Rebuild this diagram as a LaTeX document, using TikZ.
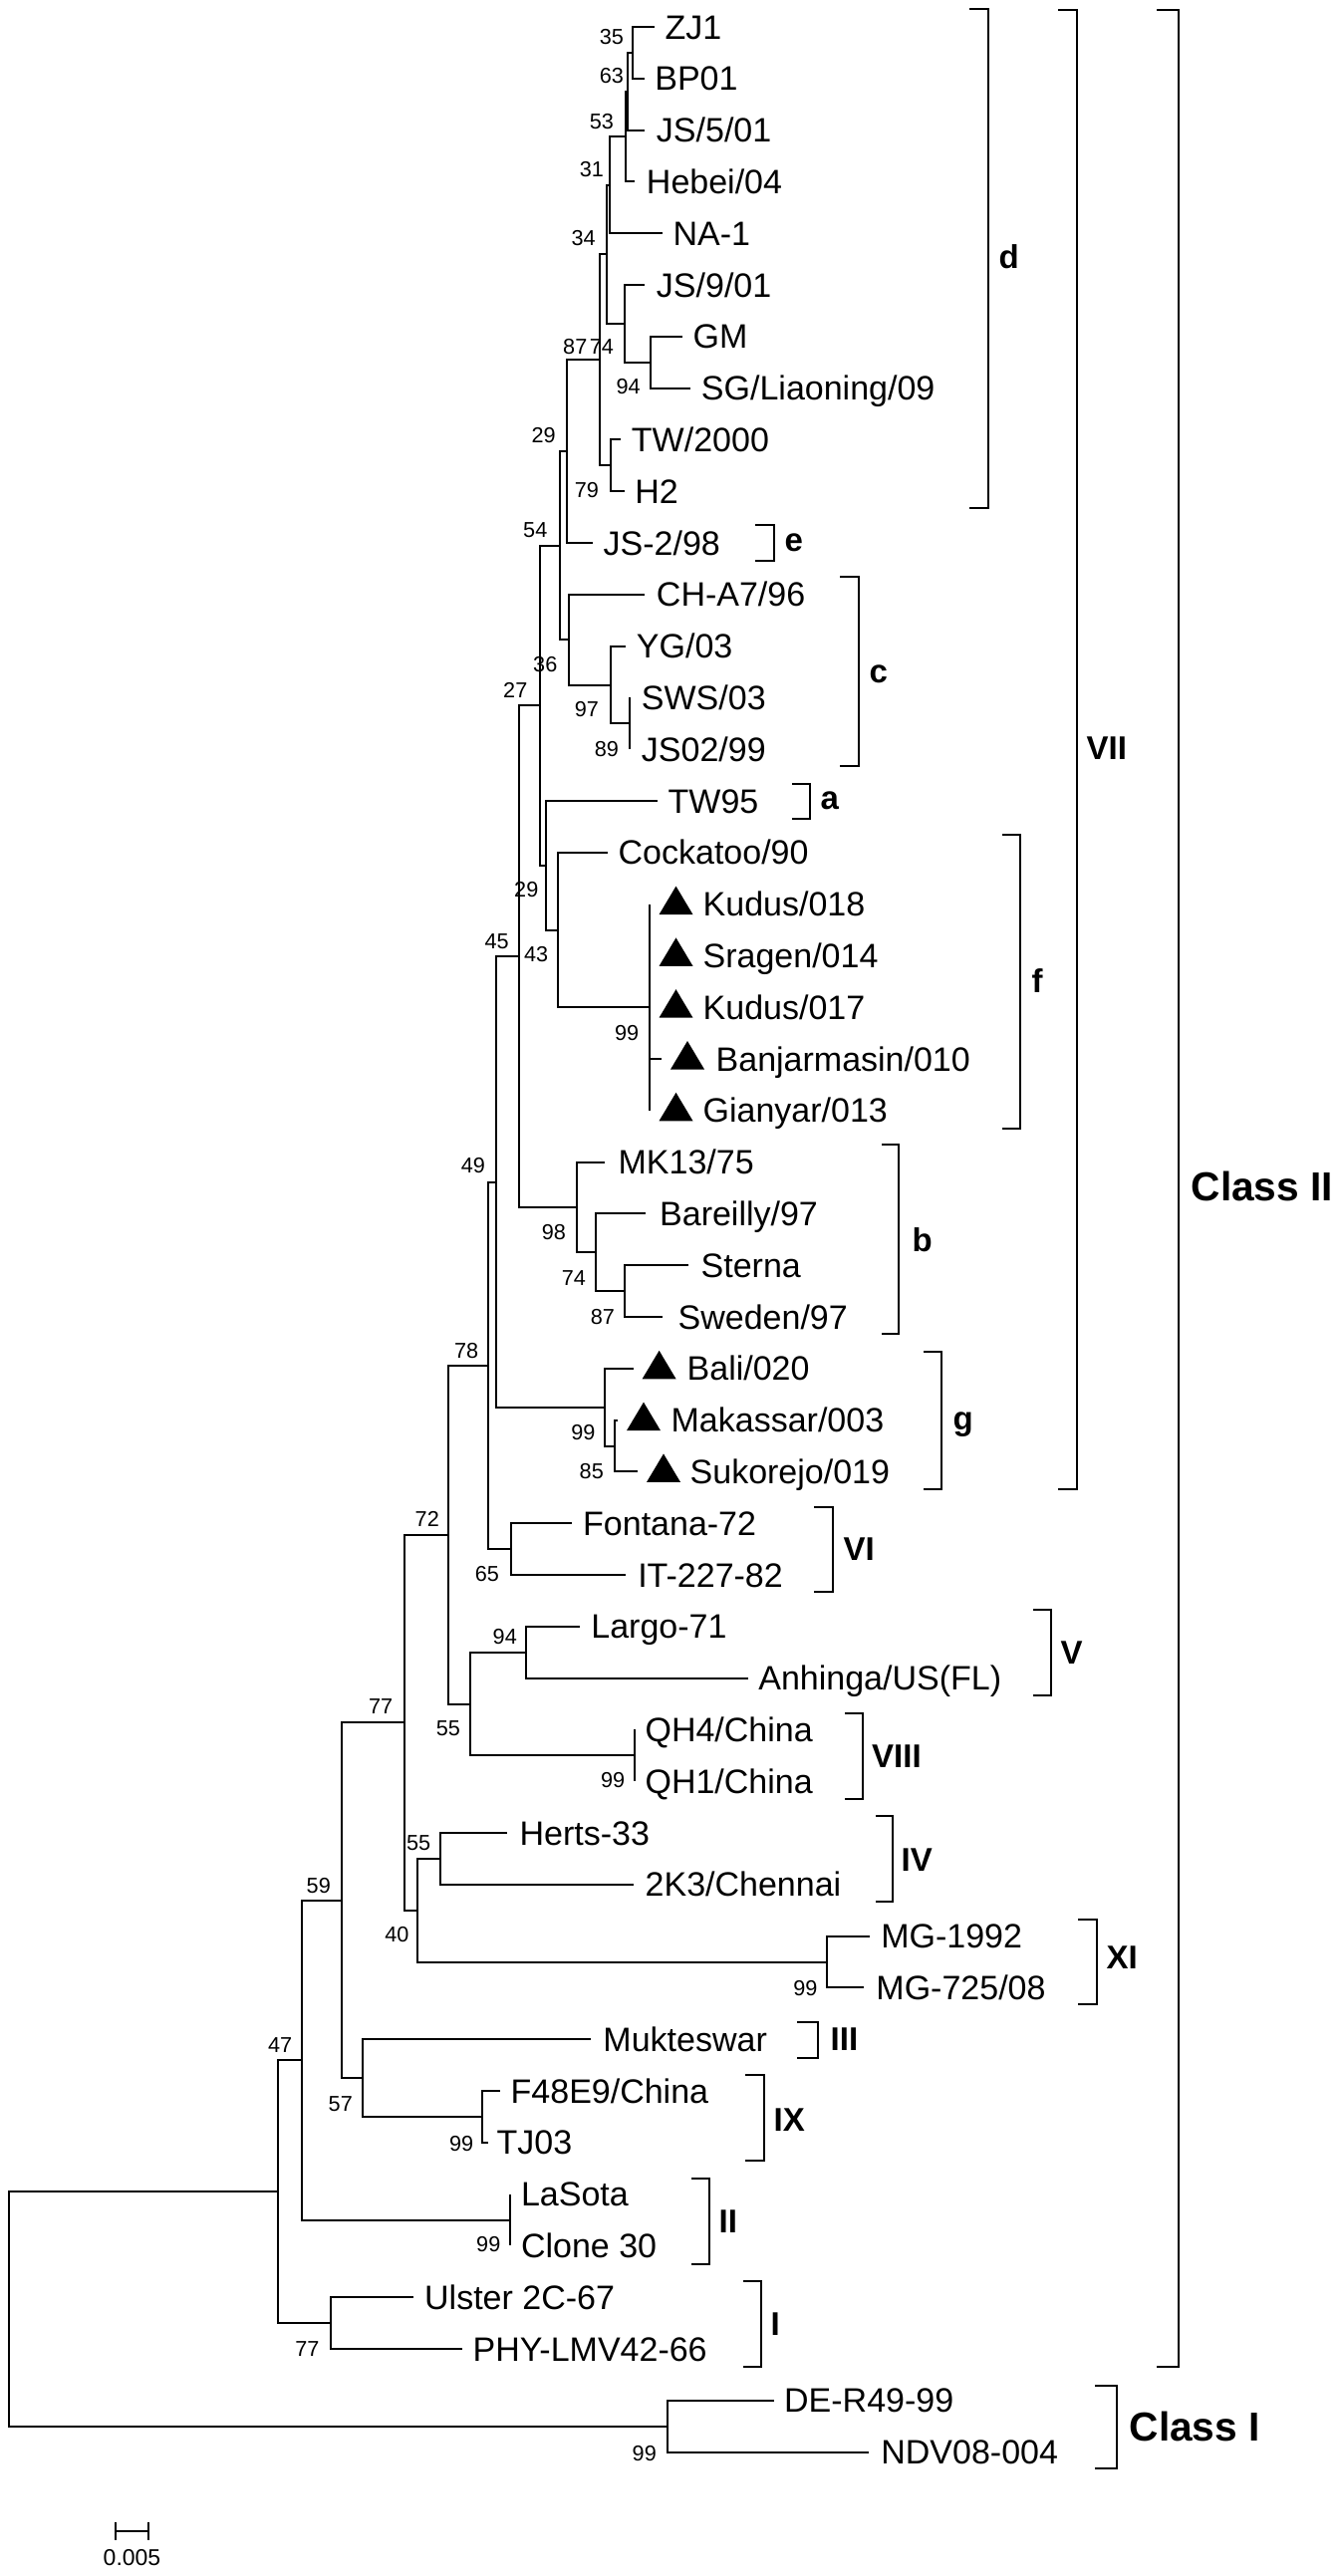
\documentclass[tikz,border=0pt]{standalone}
\usepackage{fontspec}
\setmainfont{Liberation Sans}
\newcommand\ndvtri[2]{\fill (#1,#2+10.5) -- (#1+17,#2-18) -- (#1+34,#2+10.5) -- cycle;}
\begin{document}
\begin{tikzpicture}[x=0.3pt,y=-0.3pt,
  br/.style={line width=0.6pt},
  bk/.style={line width=0.7pt},
  lab/.style={anchor=west,inner sep=0pt,font=\fontsize{10.2}{12}\selectfont,text height=7.3pt,text depth=0pt},
  bs/.style={anchor=east,inner sep=0pt,font=\fontsize{6.5}{7.5}\selectfont},
  bl/.style={anchor=west,inner sep=0pt,font=\fontsize{9.9}{12}\selectfont\bfseries},
  cl/.style={anchor=west,inner sep=0pt,font=\fontsize{12.2}{14}\selectfont\bfseries}]
\path[use as bounding box] (0,0) rectangle (1345,2586);

% internal nodes
\coordinate (root) at (9.2,2318);
\coordinate (ncII) at (279,2200);
\coordinate (ncI) at (669.5,2436);
\coordinate (n47) at (303,2068);
\coordinate (nI) at (332,2332);
\coordinate (n59) at (343,1907.5);
\coordinate (nII) at (512,2228.5);
\coordinate (n77) at (405.7,1729);
\coordinate (n57) at (363.6,2086);
\coordinate (nIX) at (483.6,2125);
\coordinate (n72) at (449.5,1540.5);
\coordinate (n40) at (419.2,1918);
\coordinate (n55b) at (442,1866);
\coordinate (nXI) at (830,1969.5);
\coordinate (n78) at (490,1371);
\coordinate (n55a) at (472.4,1710.5);
\coordinate (n94) at (527.6,1659);
\coordinate (nVIII) at (637,1762.3);
\coordinate (n49) at (498,1186.5);
\coordinate (nVI) at (512.5,1555);
\coordinate (n45) at (521,960);
\coordinate (ng) at (607,1413);
\coordinate (nms) at (617,1451.5);
\coordinate (n27) at (542,708);
\coordinate (nb) at (578.5,1212);
\coordinate (nbar) at (598,1257);
\coordinate (nst) at (627,1296);
\coordinate (n54) at (562,547.5);
\coordinate (na) at (548.3,869);
\coordinate (nf) at (560,933.5);
\coordinate (nk) at (651.7,1011.2);
\coordinate (n29) at (569.3,453);
\coordinate (nc) at (571,642);
\coordinate (nyg) at (613,687.5);
\coordinate (nsw) at (632,726.3);
\coordinate (nH) at (602,361);
\coordinate (nE) at (609,255);
\coordinate (nTW) at (613,467.3);
\coordinate (nD) at (612,185.5);
\coordinate (nF) at (627,325);
\coordinate (nG) at (653,363.7);
\coordinate (nC) at (628,137);
\coordinate (nB) at (629.5,91.5);
\coordinate (nA) at (635,52.9);

% leaves: branch ends and labels
\coordinate (l0) at (657,27);      \node[lab] (t0) at (667,27) {ZJ1};
\coordinate (l1) at (646.7,78.8);  \node[lab] (t1) at (656.7,78.8) {BP01};
\coordinate (l2) at (646.7,130.6); \node[lab] (t2) at (658.3,130.6) {JS/5/01};
\coordinate (l3) at (636.7,182.4); \node[lab] (t3) at (648.3,182.4) {Hebei/04};
\coordinate (l4) at (665,234.2);   \node[lab] (t4) at (675,234.2) {NA-1};
\coordinate (l5) at (646.7,286);   \node[lab] (t5) at (658.3,286) {JS/9/01};
\coordinate (l6) at (685,337.8);   \node[lab] (t6) at (695,337.8) {GM};
\coordinate (l7) at (693.3,389.6); \node[lab] (t7) at (703.3,389.6) {SG/Liaoning/09};
\coordinate (l8) at (623.3,441.4); \node[lab] (t8) at (633.3,441.4) {TW/2000};
\coordinate (l9) at (626.7,493.2); \node[lab] (t9) at (636.7,493.2) {H2};
\coordinate (l10) at (595,545);    \node[lab] (t10) at (605,545) {JS-2/98};
\coordinate (l11) at (646.7,596.8); \node[lab] (t11) at (658.3,596.8) {CH-A7/96};
\coordinate (l12) at (628.3,648.6); \node[lab] (t12) at (638.3,648.6) {YG/03};
\coordinate (l13) at (632,700.4);  \node[lab] (t13) at (643.3,700.4) {SWS/03};
\coordinate (l14) at (632,752.2);  \node[lab] (t14) at (643.3,752.2) {JS02/99};
\coordinate (l15) at (660,804);    \node[lab] (t15) at (670,804) {TW95};
\coordinate (l16) at (610,855.8);  \node[lab] (t16) at (620,855.8) {Cockatoo/90};
\coordinate (l17) at (651.7,907.6); \node[lab] (t17) at (705,907.6) {Kudus/018};
\coordinate (l18) at (651.7,959.4); \node[lab] (t18) at (705,959.4) {Sragen/014};
\coordinate (l19) at (651.7,1011.2); \node[lab] (t19) at (705,1011.2) {Kudus/017};
\coordinate (l20) at (663.5,1063); \node[lab] (t20) at (718,1063) {Banjarmasin/010};
\coordinate (l21) at (651.7,1114.8); \node[lab] (t21) at (705,1114.8) {Gianyar/013};
\coordinate (l22) at (607.4,1166.6); \node[lab] (t22) at (620,1166.6) {MK13/75};
\coordinate (l23) at (647.7,1218.4); \node[lab] (t23) at (661.5,1218.4) {Bareilly/97};
\coordinate (l24) at (691.2,1270.2); \node[lab] (t24) at (703,1270.2) {Sterna};
\coordinate (l25) at (665,1322);   \node[lab] (t25) at (680,1322) {Sweden/97};
\coordinate (l26) at (636,1373.8); \node[lab] (t26) at (689,1373.8) {Bali/020};
\coordinate (l27) at (619.5,1425.6); \node[lab] (t27) at (673,1425.6) {Makassar/003};
\coordinate (l28) at (640,1477.4); \node[lab] (t28) at (692,1477.4) {Sukorejo/019};
\coordinate (l29) at (573.6,1529.2); \node[lab] (t29) at (584.5,1529.2) {Fontana-72};
\coordinate (l30) at (628,1581);   \node[lab] (t30) at (639.6,1581) {IT-227-82};
\coordinate (l31) at (582,1632.8); \node[lab] (t31) at (592.7,1632.8) {Largo-71};
\coordinate (l32) at (751,1684.6); \node[lab] (t32) at (760.7,1684.6) {Anhinga/US(FL)};
\coordinate (l33) at (637,1736.4); \node[lab] (t33) at (646.9,1736.4) {QH4/China};
\coordinate (l34) at (637,1788.2); \node[lab] (t34) at (646.9,1788.2) {QH1/China};
\coordinate (l35) at (508.7,1840); \node[lab] (t35) at (521,1840) {Herts-33};
\coordinate (l36) at (636,1891.8); \node[lab] (t36) at (647,1891.8) {2K3/Chennai};
\coordinate (l37) at (872.7,1943.6); \node[lab] (t37) at (883.6,1943.6) {MG-1992};
\coordinate (l38) at (866.7,1995.4); \node[lab] (t38) at (878.8,1995.4) {MG-725/08};
\coordinate (l39) at (592.7,2047.2); \node[lab] (t39) at (604.8,2047.2) {Mukteswar};
\coordinate (l40) at (501.8,2099); \node[lab] (t40) at (512,2099) {F48E9/China};
\coordinate (l41) at (489.7,2150.8); \node[lab] (t41) at (498,2150.8) {TJ03};
\coordinate (l42) at (512,2202.6); \node[lab] (t42) at (522.4,2202.6) {LaSota};
\coordinate (l43) at (512,2254.4); \node[lab] (t43) at (522.4,2254.4) {Clone 30};
\coordinate (l44) at (415,2306.2); \node[lab] (t44) at (425.5,2306.2) {Ulster 2C-67};
\coordinate (l45) at (463.6,2358);  \node[lab] (t45) at (474,2358) {PHY-LMV42-66};
\coordinate (l46) at (776.6,2409.8); \node[lab] (t46) at (786.5,2409.8) {DE-R49-99};
\coordinate (l47) at (872.2,2461.6); \node[lab] (t47) at (883.7,2461.6) {NDV08-004};

% branches
\draw[br] (root) |- (ncII); \draw[br] (root) |- (ncI);
\draw[br] (ncII) |- (n47); \draw[br] (ncII) |- (nI);
\draw[br] (n47) |- (n59); \draw[br] (n47) |- (nII);
\draw[br] (n59) |- (n77); \draw[br] (n59) |- (n57);
\draw[br] (n77) |- (n72); \draw[br] (n77) |- (n40);
\draw[br] (n72) |- (n78); \draw[br] (n72) |- (n55a);
\draw[br] (n78) |- (n49); \draw[br] (n78) |- (nVI);
\draw[br] (n49) |- (n45); \draw[br] (n49) |- (ng);
\draw[br] (n45) |- (n27); \draw[br] (n45) |- (nb);
\draw[br] (n27) |- (n54); \draw[br] (n27) |- (na);
\draw[br] (n54) |- (n29); \draw[br] (n54) |- (nc);
\draw[br] (n29) |- (nH); \draw[br] (n29) |- (l10);
\draw[br] (nH) |- (nE); \draw[br] (nH) |- (nTW);
\draw[br] (nE) |- (nD); \draw[br] (nE) |- (nF);
\draw[br] (nD) |- (nC); \draw[br] (nD) |- (l4);
\draw[br] (nC) |- (nB); \draw[br] (nC) |- (l3);
\draw[br] (nB) |- (nA); \draw[br] (nB) |- (l2);
\draw[br] (nA) |- (l0); \draw[br] (nA) |- (l1);
\draw[br] (nF) |- (l5); \draw[br] (nF) |- (nG);
\draw[br] (nG) |- (l6); \draw[br] (nG) |- (l7);
\draw[br] (nTW) |- (l8); \draw[br] (nTW) |- (l9);
\draw[br] (nc) |- (l11); \draw[br] (nc) |- (nyg);
\draw[br] (nyg) |- (l12); \draw[br] (nyg) |- (nsw);
\draw[br] (nsw) |- (l13); \draw[br] (nsw) |- (l14);
\draw[br] (na) |- (l15); \draw[br] (na) |- (nf);
\draw[br] (nf) |- (l16); \draw[br] (nf) |- (nk);
\draw[br] (nk) |- (l17); \draw[br] (nk) |- (l18); \draw[br] (nk) |- (l19);
\draw[br] (nk) |- (l20); \draw[br] (nk) |- (l21);
\draw[br] (nb) |- (l22); \draw[br] (nb) |- (nbar);
\draw[br] (nbar) |- (l23); \draw[br] (nbar) |- (nst);
\draw[br] (nst) |- (l24); \draw[br] (nst) |- (l25);
\draw[br] (ng) |- (l26); \draw[br] (ng) |- (nms);
\draw[br] (nms) |- (l27); \draw[br] (nms) |- (l28);
\draw[br] (nVI) |- (l29); \draw[br] (nVI) |- (l30);
\draw[br] (n55a) |- (n94); \draw[br] (n55a) |- (nVIII);
\draw[br] (n94) |- (l31); \draw[br] (n94) |- (l32);
\draw[br] (nVIII) |- (l33); \draw[br] (nVIII) |- (l34);
\draw[br] (n40) |- (n55b); \draw[br] (n40) |- (nXI);
\draw[br] (n55b) |- (l35); \draw[br] (n55b) |- (l36);
\draw[br] (nXI) |- (l37); \draw[br] (nXI) |- (l38);
\draw[br] (n57) |- (l39); \draw[br] (n57) |- (nIX);
\draw[br] (nIX) |- (l40); \draw[br] (nIX) |- (l41);
\draw[br] (nII) |- (l42); \draw[br] (nII) |- (l43);
\draw[br] (nI) |- (l44); \draw[br] (nI) |- (l45);
\draw[br] (ncI) |- (l46); \draw[br] (ncI) |- (l47);

% triangles
\ndvtri{661.5}{907.6}
\ndvtri{661.5}{959.4}
\ndvtri{661.5}{1011.2}
\ndvtri{673}{1063}
\ndvtri{661.5}{1114.8}
\ndvtri{644.6}{1373.8}
\ndvtri{629}{1425.6}
\ndvtri{649}{1477.4}

% bootstrap values
\node[bs] (b1) at (626.7,36.7) {35};
\node[bs] (b2) at (626.7,76) {63};
\node[bs] (b3) at (616.7,121.7) {53};
\node[bs] (b4) at (606.7,170) {31};
\node[bs] (b5) at (598.3,239.3) {34};
\node[bs] (b6) at (590,348.3) {87};
\node[bs] (b7) at (616.7,348.3) {74};
\node[bs] (b8) at (643.3,388.3) {94};
\node[bs] (b9) at (558.3,436.7) {29};
\node[bs] (b10) at (601.7,491.7) {79};
\node[bs] (b11) at (550,531.7) {54};
\node[bs] (b12) at (560,666.7) {36};
\node[bs] (b13) at (530,693.3) {27};
\node[bs] (b14) at (601.7,711.7) {97};
\node[bs] (b15) at (621.7,751.7) {89};
\node[bs] (b16) at (541,893.3) {29};
\node[bs] (b17) at (511.3,945) {45};
\node[bs] (b18) at (550.8,958.3) {43};
\node[bs] (b19) at (641.8,1036.7) {99};
\node[bs] (b20) at (487.6,1170) {49};
\node[bs] (b21) at (568.6,1236.7) {98};
\node[bs] (b22) at (588.6,1283.3) {74};
\node[bs] (b23) at (617.7,1321.7) {87};
\node[bs] (b24) at (480.8,1356) {78};
\node[bs] (b25) at (598.2,1438.3) {99};
\node[bs] (b26) at (606.5,1476.7) {85};
\node[bs] (b27) at (441.5,1525) {72};
\node[bs] (b28) at (501.6,1580) {65};
\node[bs] (b29) at (519.5,1643.3) {94};
\node[bs] (b30) at (462.6,1735) {55};
\node[bs] (b31) at (394.9,1713.3) {77};
\node[bs] (b32) at (627.9,1787.3) {99};
\node[bs] (b33) at (432.8,1850) {55};
\node[bs] (b34) at (332.5,1893.3) {59};
\node[bs] (b35) at (411.1,1941.7) {40};
\node[bs] (b36) at (821.2,1996) {99};
\node[bs] (b37) at (293.9,2053.3) {47};
\node[bs] (b38) at (354.5,2111.7) {57};
\node[bs] (b39) at (475.8,2151.7) {99};
\node[bs] (b40) at (503,2253.3) {99};
\node[bs] (b41) at (321.2,2358.3) {77};
\node[bs] (b42) at (659.5,2463.3) {99};

% brackets
\draw[bk] (973,9) -- (992,9) -- (992,510) -- (973,510);
\draw[bk] (758,527) -- (777,527) -- (777,563) -- (758,563);
\draw[bk] (843,579) -- (862,579) -- (862,769) -- (843,769);
\draw[bk] (795,787) -- (813,787) -- (813,822) -- (795,822);
\draw[bk] (1006,838) -- (1024,838) -- (1024,1133) -- (1006,1133);
\draw[bk] (885,1149) -- (902,1149) -- (902,1339) -- (885,1339);
\draw[bk] (927,1357) -- (945,1357) -- (945,1495) -- (927,1495);
\draw[bk] (1062,10) -- (1081,10) -- (1081,1495) -- (1062,1495);
\draw[bk] (817,1513) -- (836,1513) -- (836,1598) -- (817,1598);
\draw[bk] (1037,1616) -- (1055,1616) -- (1055,1702) -- (1037,1702);
\draw[bk] (848,1720) -- (866,1720) -- (866,1806) -- (848,1806);
\draw[bk] (879,1823) -- (896,1823) -- (896,1909) -- (879,1909);
\draw[bk] (1082,1927) -- (1101,1927) -- (1101,2012) -- (1082,2012);
\draw[bk] (800,2030) -- (821,2030) -- (821,2066) -- (800,2066);
\draw[bk] (748,2083) -- (767,2083) -- (767,2169) -- (748,2169);
\draw[bk] (694,2187) -- (712,2187) -- (712,2273) -- (694,2273);
\draw[bk] (746,2290) -- (764,2290) -- (764,2376) -- (746,2376);
\draw[bk] (1161,10) -- (1183,10) -- (1183,2376) -- (1161,2376);
\draw[bk] (1099,2395) -- (1121,2395) -- (1121,2478) -- (1099,2478);

% bracket labels
\node[bl] (gd) at (1002,258) {d};
\node[bl] (ge) at (787,545) {e};
\node[bl] (gc) at (872,677) {c};
\node[bl] (ga) at (823,804) {a};
\node[bl] (gf) at (1035,985) {f};
\node[bl] (gb) at (915,1245) {b};
\node[bl] (gVII) at (1090,751) {VII};
\node[bl] (gg) at (956,1430) {g};
\node[bl] (gVI) at (846,1555) {VI};
\node[bl] (gV) at (1064,1659) {V};
\node[bl] (gVIII) at (874.5,1763) {VIII};
\node[bl] (gIV) at (904,1867) {IV};
\node[bl] (gXI) at (1110,1965) {XI};
\node[bl] (gIII) at (833,2047) {III};
\node[bl] (gIX) at (776,2128) {IX};
\node[bl] (gII) at (721,2230) {II};
\node[bl] (gI) at (773,2333) {I};
\node[cl] (gC2) at (1195,1191) {Class II};
\node[cl] (gC1) at (1133,2436) {Class I};

% scale bar
\coordinate (sb1) at (116,2541);
\coordinate (sb2) at (149,2541);
\draw[br] (sb1) -- (sb2);
\draw[br] ([yshift=2.7pt]sb1) -- ([yshift=-2.7pt]sb1);
\draw[br] ([yshift=2.7pt]sb2) -- ([yshift=-2.7pt]sb2);
\node[inner sep=0pt,font=\fontsize{6.9}{8}\selectfont] (sbl) at (132.5,2568) {0.005};
\end{tikzpicture}
\end{document}
